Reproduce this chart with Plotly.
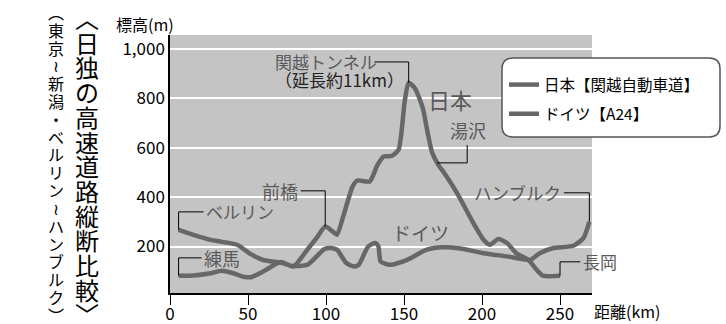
import plotly.graph_objects as go

# ---------------- data ----------------
jp_km = [5.5, 15, 26, 33, 40, 47, 52, 60, 71, 79, 88, 94, 99.5, 104, 107, 111, 117, 120, 128, 133, 137,
         142, 146.5, 150.5, 153, 157, 162, 165, 168, 172, 176, 184, 194.5, 201, 205, 210.5, 216, 222,
         229.7, 235, 239, 250]
jp_elev = [82, 83, 92, 102, 93, 78, 76, 100, 137, 119, 187, 235, 281, 262, 247, 321, 442, 467, 463, 530, 564,
           566, 591, 790, 862, 840, 760, 665, 580, 530, 495, 416, 294, 227, 207, 230, 214, 173,
           146, 106, 82, 82]

de_km = [5.5, 15, 26, 32, 43, 51.5, 60, 71, 79, 88, 94, 99, 103, 107, 113, 118, 121, 127, 131.5, 133.6,
         135, 141, 152, 164.6, 175, 186, 201, 216, 231, 237, 245.7, 258.5, 265, 268.8]
de_elev = [267, 247, 227, 220, 207, 170, 145, 135, 121, 126, 160, 190, 194, 187, 133, 119, 126, 200, 214, 200,
           140, 126, 146, 187, 197, 192, 173, 160, 146, 173, 194, 203, 234, 301]

series_names = ["日本【関越自動車道】", "ドイツ【A24】"]

x_ticks = [0, 50, 100, 150, 200, 250]
x_tick_labels = ["0", "50", "100", "150", "200", "250"]
y_ticks = [200, 400, 600, 800, 1000]
y_tick_labels = ["200", "400", "600", "800", "1,000"]

# vertical text (vertical presentation forms for brackets)
title_chars = ["︿", "日", "独", "の", "高", "速", "道", "路", "縦", "断", "比", "較", "﹀"]
subtitle_chars = ["︵", "東", "京", "≀", "新", "潟", "・", "ベ", "ル", "リ", "ン", "≀",
                  "ハ", "ン", "ブ", "ル", "ク", "︶"]
y_title = "標高(m)"
x_title = "距離(km)"

# ---------------- style ----------------
FONT = "Noto Sans CJK JP"
LINE = "#676767"
LABEL = "#5a5a5a"
BG = "#c4c4c4"
W, H = 726, 324
PX0, PX1, PY0, PY1 = 170, 592, 35, 293


def px(xp):
    return (xp - PX0) / (PX1 - PX0)


def py(yp):
    return (PY1 - yp) / (PY1 - PY0)


fig = go.Figure()
fig.add_trace(go.Scatter(x=jp_km, y=jp_elev, mode="lines", name=series_names[0], legendgroup="jp",
                         line=dict(color=LINE, width=4.5, shape="spline", smoothing=0.6)))
fig.add_trace(go.Scatter(x=de_km, y=de_elev, mode="lines", name=series_names[1], legendgroup="de",
                         line=dict(color=LINE, width=4.5, shape="spline", smoothing=0.6)))

annotations = []
shapes = []


def leader(points):
    path = "M " + " L ".join(f"{a},{b}" for a, b in points)
    shapes.append(dict(type="path", xref="x", yref="y", path=path,
                       line=dict(color="black", width=1), layer="above"))


# leader lines anchored to data points
pk = jp_elev.index(max(jp_elev))
leader([(131.0, 946), (jp_km[pk], 946), (jp_km[pk], jp_elev[pk])])
mb = jp_km.index(99.5)
leader([(83.8, 425), (jp_km[mb], 425), (jp_km[mb], jp_elev[mb])])
leader([(190.5, 610), (190.5, 538), (171.3, 538)])
leader([(21.5, 340), (de_km[0], 340), (de_km[0], de_elev[0])])
leader([(20.3, 154), (jp_km[0], 154), (jp_km[0], jp_elev[0])])
leader([(252.5, 417), (de_km[-1], 417), (de_km[-1], de_elev[-1])])
leader([(263, 138), (jp_km[-1], 138), (jp_km[-1], jp_elev[-1])])


def label(x, y, text, anchor, size=17, color=LABEL, align="center"):
    annotations.append(dict(x=x, y=y, xref="x", yref="y", text=text, showarrow=False,
                            xanchor=anchor, yanchor="middle", align=align,
                            font=dict(family=FONT, size=size, color=color)))


label(66.0, 910,
      f"<span style='font-size:17px;color:{LABEL}'>関越トンネル</span><br>"
      "<span style='font-size:17px;color:#222222'>（延長約11km）</span>",
      "left", 14, LABEL, "left")
label(191, 671, "湯沢", "center", 18)
label(179.6, 795, "日本", "center", 22)
label(83.5, 425, "前橋", "right", 18)
label(22, 340, "ベルリン", "left", 17)
label(20.5, 154, "練馬", "left", 18)
label(160.5, 255, "ドイツ", "center", 19)
label(252.2, 417, "ハンブルク", "right", 17.5)
label(263.3, 138, "長岡", "left", 17)

# axis titles
annotations.append(dict(x=px(114), y=py(24), xref="paper", yref="paper", text=y_title, showarrow=False,
                        xanchor="left", yanchor="middle", font=dict(family=FONT, size=16, color="black")))
annotations.append(dict(x=px(592), y=py(311), xref="paper", yref="paper", text=x_title, showarrow=False,
                        xanchor="left", yanchor="middle", font=dict(family=FONT, size=16, color="black")))

# vertical title and subtitle: one character per line, line pitch set by the base font size
title_html = "<br>".join(f"<span style='font-size:24px'>{c}</span>" for c in title_chars)
sub_html = "<br>".join(f"<span style='font-size:16px'>{c}</span>" for c in subtitle_chars)
annotations.append(dict(x=px(87), y=py(165.5), xref="paper", yref="paper", text=title_html,
                        showarrow=False, xanchor="center", yanchor="middle", align="center",
                        font=dict(family=FONT, size=19, color="black")))
annotations.append(dict(x=px(56), y=py(163), xref="paper", yref="paper", text=sub_html,
                        showarrow=False, xanchor="center", yanchor="middle", align="center",
                        font=dict(family=FONT, size=13.7, color="black")))

# rounded legend frame
x0, x1, y0, y1 = px(502), px(720), py(137), py(58)
rx, ry = 11 / (PX1 - PX0), 11 / (PY1 - PY0)
frame = (f"M {x0+rx},{y0} L {x1-rx},{y0} Q {x1},{y0} {x1},{y0+ry} L {x1},{y1-ry} Q {x1},{y1} {x1-rx},{y1} "
         f"L {x0+rx},{y1} Q {x0},{y1} {x0},{y1-ry} L {x0},{y0+ry} Q {x0},{y0} {x0+rx},{y0} Z")
shapes.append(dict(type="path", xref="paper", yref="paper", path=frame, fillcolor="white",
                   line=dict(color="#555555", width=1.5), layer="above"))

fig.update_layout(
    width=W, height=H,
    margin=dict(l=PX0, r=W - PX1, t=PY0, b=H - PY1, autoexpand=False),
    paper_bgcolor="white", plot_bgcolor=BG,
    font=dict(family=FONT, color="black"),
    showlegend=True,
    legend=dict(x=px(504), y=py(68), xanchor="left", yanchor="top", bgcolor="rgba(0,0,0,0)",
                borderwidth=0, font=dict(family=FONT, size=15.5, color="black"),
                traceorder="grouped", tracegroupgap=6, itemwidth=30),
    annotations=annotations,
    shapes=shapes,
    xaxis=dict(range=[0, 270.5], showgrid=False, zeroline=False, showline=True, linecolor="black",
               linewidth=1.5, ticks="outside", ticklen=10, tickwidth=1, tickcolor="black",
               ticklabelstandoff=-5,
               tickvals=x_ticks, ticktext=x_tick_labels, tickfont=dict(family=FONT, size=17, color="black")),
    yaxis=dict(range=[12, 1055], showgrid=True, gridcolor="white", gridwidth=2, zeroline=False,
               showline=True, linecolor="black", linewidth=1.5, ticks="",
               tickvals=y_ticks, ticktext=y_tick_labels, tickfont=dict(family=FONT, size=17, color="black")),
)

fig.write_html("out.html")
